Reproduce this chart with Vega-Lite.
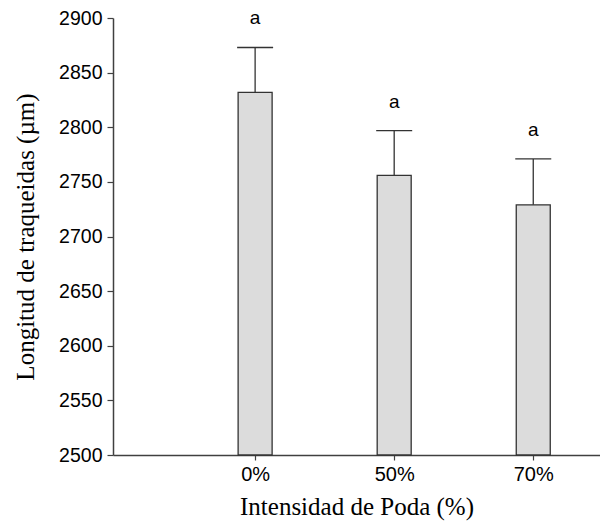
{
  "$schema": "https://vega.github.io/schema/vega-lite/v6.json",
  "autosize": {"type": "none"},
  "padding": {"left": 113, "top": 18, "right": 0, "bottom": 70},
  "width": 487,
  "height": 437,
  "background": "white",
  "config": {"view": {"stroke": null}},
  "data": {
    "values": [
      {"orden": 1, "poda": "0%", "media": 2832, "superior": 2873, "letra": "a"},
      {"orden": 2, "poda": "50%", "media": 2756, "superior": 2797, "letra": "a"},
      {"orden": 3, "poda": "70%", "media": 2729, "superior": 2771, "letra": "a"}
    ]
  },
  "encoding": {
    "x": {
      "field": "orden",
      "type": "quantitative",
      "scale": {"domain": [0.014, 3.444], "nice": false, "zero": false},
      "axis": {
        "title": "Intensidad de Poda (%)",
        "values": [1, 2, 3],
        "labelExpr": "datum.value == 1 ? '0%' : datum.value == 2 ? '50%' : '70%'",
        "grid": false,
        "domainColor": "#404040",
        "domainWidth": 1.5,
        "tickColor": "#404040",
        "tickWidth": 1.2,
        "tickSize": 5,
        "labelFont": "Liberation Sans",
        "labelFontSize": 20,
        "labelColor": "#000000",
        "labelPadding": 4,
        "titleFont": "Liberation Serif",
        "titleFontSize": 25,
        "titleFontWeight": "normal",
        "titleColor": "#000000",
        "titlePadding": 10
      }
    }
  },
  "layer": [
    {
      "mark": {"type": "bar", "width": 34, "fill": "#dcdcdc", "stroke": "#333333", "strokeWidth": 1.3},
      "encoding": {
        "y": {
          "field": "media",
          "type": "quantitative",
          "scale": {"domain": [2500, 2900], "nice": false, "zero": false},
          "axis": {
            "title": "Longitud de traqueidas (µm)",
            "values": [2500, 2550, 2600, 2650, 2700, 2750, 2800, 2850, 2900],
            "format": "d",
            "grid": false,
            "domainColor": "#404040",
            "domainWidth": 1.5,
            "tickColor": "#404040",
            "tickWidth": 1.2,
            "tickSize": 6,
            "labelFont": "Liberation Sans",
            "labelFontSize": 19.5,
            "labelColor": "#000000",
            "labelPadding": 5,
            "titleFont": "Liberation Serif",
            "titleFontSize": 25,
            "titleFontWeight": "normal",
            "titleColor": "#000000",
            "titlePadding": 20
          }
        },
        "y2": {"datum": 2500}
      }
    },
    {
      "mark": {"type": "rule", "stroke": "#333333", "strokeWidth": 1.3},
      "encoding": {
        "y": {"field": "media", "type": "quantitative"},
        "y2": {"field": "superior"}
      }
    },
    {
      "mark": {"type": "tick", "orient": "horizontal", "size": 36, "thickness": 1.3, "color": "#333333", "opacity": 1},
      "encoding": {
        "y": {"field": "superior", "type": "quantitative"}
      }
    },
    {
      "mark": {"type": "text", "dy": -29, "font": "Liberation Sans", "fontSize": 19, "color": "#000000", "baseline": "middle"},
      "encoding": {
        "y": {"field": "superior", "type": "quantitative"},
        "text": {"field": "letra"}
      }
    }
  ]
}
